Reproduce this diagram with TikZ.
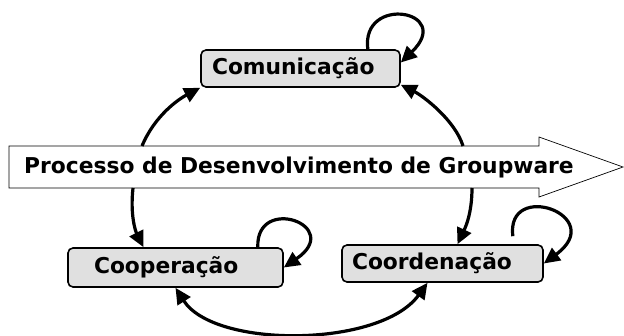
\documentclass[tikz,border=0pt]{standalone}
\usepackage{fontspec}
\setmainfont{DejaVu Sans}
\usetikzlibrary{arrows.meta}

\begin{document}
\begin{tikzpicture}[x=1pt,y=-1pt]
			\tikzset{phase box/.style={draw,rounded corners=5pt,fill=black!12,line width=1.6pt,align=left,inner ysep=0pt,minimum height=#1},
				flow/.style={line width=3.2pt,-{Triangle[length=16pt,width=15pt]}},
				both flow/.style={line width=3.2pt,{Triangle[length=16pt,width=15pt]}-{Triangle[length=16pt,width=15pt]}},
				label font/.style={font=\fontsize{21.8}{25}\selectfont\bfseries}}
			\useasboundingbox (0,0) rectangle (624,335);
			% processo
			\draw[line width=0.7pt] (9,146) -- (539,146) -- (539,137) -- (623,167) -- (539,197) -- (539,188) -- (9,188) -- cycle;
			\node [label font] (proc) at (299,167) {Processo de Desenvolvimento de Groupware};
			\coordinate (sA) at (142,146);
			\coordinate (sB) at (463,146);
			\coordinate (sC) at (133,188);
			\coordinate (sD) at (472,188);
			% fases
			\node [phase box=37pt, label font, text width=177pt, inner xsep=11pt] (com) at (300.5,68.5) {Comunicação};
			\node [phase box=39pt, label font, text width=163pt, inner xsep=26pt] (coop) at (175.5,267.5) {Cooperação};
			\node [phase box=37pt, label font, text width=181pt, inner xsep=10pt] (coord) at (442.5,263.5) {Coordenação};
			% ligacoes
			\draw [flow] (sA) .. controls +(13,-31) and +(-21,11) .. (com.south west);
			\draw [flow] (sB) .. controls +(-8,-26) and +(22,11) .. ([yshift=3pt]com.south east);
			\draw [flow] (sC) .. controls +(-3,27) and +(-8,-16) .. ([xshift=-32pt]coop.north);
			\draw [flow] (sD) .. controls +(0,27) and +(7,-15) .. ([xshift=15pt]coord.north);
			\draw [both flow] (coop.south) .. controls +(39,61) and +(-47,65) .. ([xshift=-15pt]coord.south);
			% lacos
			\draw [flow] ([xshift=-33pt]com.north east) .. controls +(-7,-55) and +(54,-52) .. ([yshift=6pt]com.east);
			\draw [flow] ([xshift=-26pt]coop.north east) .. controls +(-2,-53) and +(61,-42) .. (coop.east);
			\draw [flow] ([xshift=-31pt,yshift=8pt]coord.north east) .. controls +(-7,-57) and +(65,-48) .. (coord.east);
		\end{tikzpicture}
\end{document}
